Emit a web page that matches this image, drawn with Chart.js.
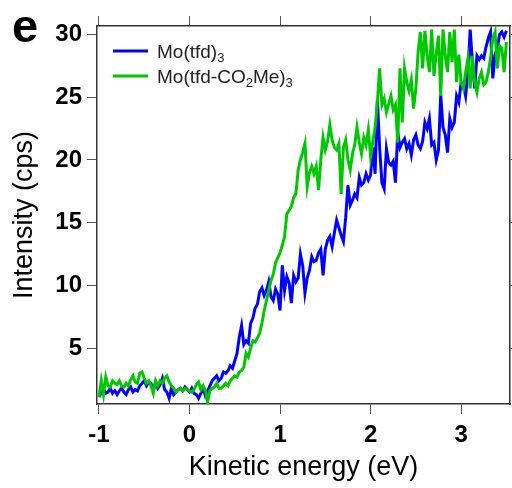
<!DOCTYPE html>
<html>
<head>
<meta charset="utf-8">
<script src="https://cdn.jsdelivr.net/npm/chart.js@4.4.1/dist/chart.umd.min.js"></script>
<style>
  html, body { margin: 0; padding: 0; background: #fff; }
  #wrap { width: 512px; height: 488px; position: relative; }
</style>
</head>
<body>
<div id="wrap"><canvas id="spectrum"></canvas></div>
<script>
// kinetic energy grid (eV)
const energyStart = -1.0;
const energyStep = 0.025;

// Mo(tfd)3, counts per second
const tfdCounts = [
    1.1, 1.5, 1.7, 1.4, 1.5, 1.8, 1.4, 1.6, 1.3, 1.6, 1.8, 1.5, 1.3, 1.7, 1.9, 1.5, 1.7, 1.6, 2.0, 2.2,
    2.4, 2.0, 2.3, 2.2, 1.6, 2.3, 1.8, 2.1, 2.6, 1.7, 1.5, 1.0, 1.8, 1.3, 1.5, 1.7, 1.8, 1.6, 1.9, 1.7,
    1.5, 1.8, 1.4, 1.3, 1.0, 1.4, 1.8, 1.2, 1.6, 2.0, 2.4, 2.6, 2.8, 2.4, 2.6, 3.1, 3.0, 3.2, 3.6, 3.4,
    4.0, 4.6, 5.9, 6.8, 5.3, 5.6, 5.4, 7.0, 7.4, 8.2, 8.5, 9.5, 9.8, 9.2, 9.6, 10.3, 9.1, 8.8, 9.7, 9.3,
    8.0, 11.6, 9.6, 10.7, 10.2, 8.6, 10.8, 10.3, 10.6, 12.5, 11.6, 9.4, 10.6, 11.2, 12.3, 11.9, 12.0, 12.6, 12.9, 10.8,
    12.9, 13.6, 13.9, 13.1, 14.2, 15.2, 14.6, 14.0, 13.5, 15.4, 18.0, 16.4, 16.8, 17.3, 17.0, 18.6, 18.0, 18.2, 18.9, 18.4,
    18.8, 21.0, 18.9, 24.8, 21.0, 18.2, 17.7, 20.9, 19.8, 19.6, 19.9, 18.2, 22.2, 21.0, 21.4, 21.7, 20.9, 21.3, 20.4, 21.6,
    22.0, 21.2, 20.9, 21.5, 23.0, 22.5, 23.3, 21.2, 21.4, 20.0, 20.8, 25.2, 22.6, 22.0, 20.6, 23.3, 22.6, 23.0, 25.1, 24.6,
    26.2, 26.0, 25.1, 27.0, 30.4, 27.8, 25.7, 28.3, 28.0, 28.3, 28.1, 29.0, 29.7, 30.2, 26.5, 28.4, 28.9, 30.0, 30.2, 29.8,
    30.3
];

// Mo(tfd-CO2Me)3, counts per second
const tfdEsterCounts = [
    1.1, 2.4, 1.3, 2.7, 2.0, 1.9, 2.4, 2.2, 2.1, 2.4, 2.0, 1.9, 2.2, 2.0, 2.5, 2.8, 2.3, 2.2, 3.0, 3.1,
    2.6, 2.2, 2.4, 2.0, 1.4, 2.4, 2.0, 2.4, 2.2, 2.6, 2.8, 2.3, 2.0, 1.8, 1.5, 1.7, 1.8, 1.6, 1.8, 1.7,
    1.6, 1.5, 1.7, 2.1, 2.3, 1.7, 2.0, 1.6, 0.7, 1.6, 1.8, 1.9, 2.2, 1.8, 1.8, 2.0, 2.2, 2.0, 2.4, 2.6,
    2.8, 2.7, 3.1, 3.2, 3.5, 4.6, 4.3, 5.0, 5.6, 5.5, 5.8, 6.2, 7.0, 8.0, 8.8, 9.6, 10.4, 10.9, 11.8, 12.2,
    12.6, 13.2, 13.9, 15.7, 16.0, 16.3, 17.0, 17.3, 19.2, 20.0, 20.6, 21.3, 17.9, 19.0, 19.5, 18.9, 19.5, 17.6, 20.0, 21.8,
    20.8, 21.5, 22.8, 21.6, 21.0, 20.8, 21.3, 17.3, 21.0, 21.6, 20.0, 19.2, 20.5, 21.2, 22.6, 21.4, 20.5, 21.8, 21.2, 22.4,
    20.3, 21.5, 22.6, 24.6, 27.3, 24.4, 24.9, 23.8, 24.5, 25.1, 24.0, 24.4, 21.4, 27.3, 23.0, 27.3, 26.2, 25.5, 26.4, 24.1,
    25.7, 28.6, 30.2, 27.3, 30.3, 28.3, 27.0, 30.4, 26.7, 28.5, 29.9, 25.1, 30.4, 28.3, 27.0, 30.2, 27.8, 30.4, 26.2, 28.4,
    26.2, 25.7, 27.0, 28.1, 25.7, 28.3, 26.2, 25.4, 26.5, 27.0, 26.0, 26.2, 27.0, 28.1, 29.7, 30.2, 27.3, 29.1, 28.9, 27.0,
    29.4
];

const xTicks = [-1, 0, 1, 2, 3];
const yTicks = [5, 10, 15, 20, 25, 30];
const seriesNames = ['Mo(tfd)₃', 'Mo(tfd-CO₂Me)₃'];
const seriesColors = ['#0000ff', '#00c800'];

const FONT = '"Liberation Sans", Arial, sans-serif';
Chart.defaults.font.family = FONT;
Chart.defaults.color = '#000';

function toPoints(values) {
    return values.map((v, i) => ({ x: energyStart + i * energyStep, y: v }));
}

// draws text, turning unicode subscript digits into small lowered digits
const subDigits = '₀₁₂₃₄₅₆₇₈₉';
function drawRichText(ctx, text, x, y, size) {
    for (const ch of text) {
        const k = subDigits.indexOf(ch);
        if (k >= 0) {
            ctx.font = Math.round(size * 0.68) + 'px ' + FONT;
            ctx.fillText(String(k), x, y + size * 0.2);
            x += ctx.measureText(String(k)).width;
        } else {
            ctx.font = size + 'px ' + FONT;
            ctx.fillText(ch, x, y);
            x += ctx.measureText(ch).width;
        }
    }
}

const insideLegend = {
    id: 'insideLegend',
    afterDraw(chart) {
        const ctx = chart.ctx;
        const area = chart.chartArea;
        ctx.save();
        chart.data.datasets.forEach((ds, i) => {
            const y = area.top + 25 + i * 25;
            ctx.strokeStyle = ds.borderColor;
            ctx.lineWidth = 3;
            ctx.beginPath();
            ctx.moveTo(area.left + 16, y);
            ctx.lineTo(area.left + 51, y);
            ctx.stroke();
            ctx.fillStyle = '#222';
            ctx.textBaseline = 'alphabetic';
            drawRichText(ctx, ds.label, area.left + 60, y + 7, 19);
        });
        // panel letter
        ctx.fillStyle = '#000';
        ctx.font = 'bold 47px ' + FONT;
        ctx.fillText('e', 12, 42);
        ctx.restore();
    }
};

const axisColor = '#333';
const tickFont = { size: 24, weight: 'bold' };

new Chart(document.getElementById('spectrum'), {
    type: 'line',
    data: {
        datasets: [{
            label: seriesNames[0],
            data: toPoints(tfdCounts),
            borderColor: seriesColors[0],
            borderWidth: 3,
            pointRadius: 0,
            order: 2
        }, {
            label: seriesNames[1],
            data: toPoints(tfdEsterCounts),
            borderColor: seriesColors[1],
            borderWidth: 3,
            pointRadius: 0,
            order: 1
        }]
    },
    options: {
        responsive: true,
        maintainAspectRatio: false,
        animation: false,
        layout: { padding: 0 },
        plugins: {
            legend: { display: false },
            tooltip: { enabled: false }
        },
        scales: {
            x: {
                type: 'linear',
                position: 'bottom',
                min: -1.022,
                max: 3.54,
                afterBuildTicks: s => { s.ticks = xTicks.map(v => ({ value: v })); },
                afterFit: s => { s.height = 84; },
                border: { color: axisColor, width: 1.5 },
                grid: { drawOnChartArea: false, tickLength: 10, color: '#555' },
                ticks: { font: tickFont, padding: 7, maxRotation: 0 },
                title: { display: true, text: 'Kinetic energy (eV)', font: { size: 27 }, padding: { top: 4, bottom: 4 } }
            },
            xTop: {
                type: 'linear',
                position: 'top',
                min: -1.022,
                max: 3.54,
                afterBuildTicks: s => { s.ticks = xTicks.map(v => ({ value: v })); },
                afterFit: s => { s.height = 26; },
                border: { color: axisColor, width: 1.5 },
                grid: { drawOnChartArea: false, tickLength: 10, color: '#555' },
                ticks: { display: false }
            },
            y: {
                type: 'linear',
                position: 'left',
                min: 0.55,
                max: 30.68,
                afterBuildTicks: s => { s.ticks = yTicks.map(v => ({ value: v })); },
                afterFit: s => { s.width = 97; },
                border: { color: axisColor, width: 1.5 },
                grid: { drawOnChartArea: false, tickLength: 10, color: '#555' },
                ticks: { font: tickFont, padding: 5 },
                title: { display: true, text: 'Intensity (cps)', font: { size: 27 }, padding: { top: 8, bottom: 4 } }
            },
            yRight: {
                type: 'linear',
                position: 'right',
                min: 0.55,
                max: 30.68,
                afterBuildTicks: s => { s.ticks = yTicks.map(v => ({ value: v })); },
                afterFit: s => { s.width = 2; },
                border: { color: axisColor, width: 1.5 },
                grid: { drawOnChartArea: false, tickLength: 10, color: '#555' },
                ticks: { display: false }
            }
        }
    },
    plugins: [insideLegend]
});
</script>
</body>
</html>
